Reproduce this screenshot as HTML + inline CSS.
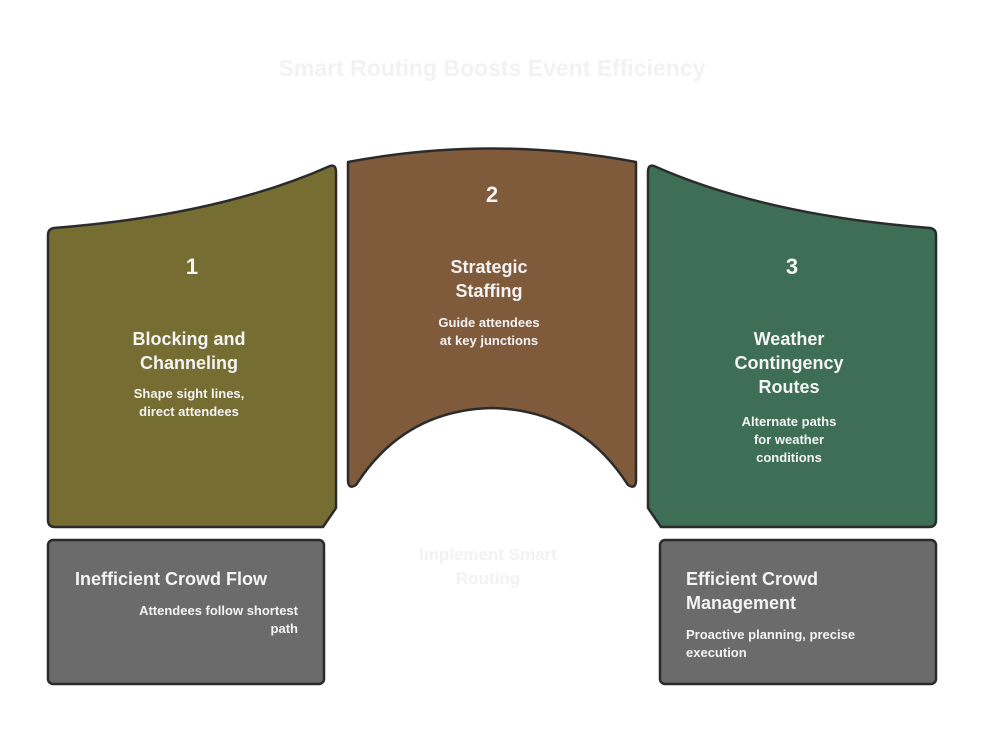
<!DOCTYPE html>
<html><head><style>
body{margin:0;background:#fff;width:984px;height:732px;overflow:hidden}
svg text{font-family:"Liberation Sans",sans-serif;fill:#f4f4f4}
</style></head><body>
<svg width="984" height="732" viewBox="0 0 984 732">
<text x="492" y="76" text-anchor="middle" font-size="23" font-weight="bold" style="fill:#f2f2f2">Smart Routing Boosts Event Efficiency</text>
<g stroke="#2b2b2b" stroke-width="2.5" stroke-linejoin="round">
<path d="M54,228 Q220,215 330,166 Q336,164 336,172 L336,508 L323,527 L55,527 Q48,527 48,520 L48,235 Q48,229 54,228 Z" fill="#766d33"/>
<path d="M348,162 Q492,135 636,162 L636,480 Q636,490 628,485 Q580,410 492,408 Q404,410 356,485 Q348,490 348,480 Z" fill="#7f5a3b"/>
<path d="M930,228 Q764,215 654,166 Q648,164 648,172 L648,508 L661,527 L929,527 Q936,527 936,520 L936,235 Q936,229 930,228 Z" fill="#3e6e56"/>
<rect x="48" y="540" width="276" height="144" rx="5" fill="#6b6b6b"/>
<rect x="660" y="540" width="276" height="144" rx="5" fill="#6b6b6b"/>
</g>
<g text-anchor="middle" font-weight="bold">
<text x="192" y="274" font-size="22">1</text>
<text x="189" y="345" font-size="18">Blocking and</text>
<text x="189" y="369" font-size="18">Channeling</text>
<text x="189" y="398" font-size="13">Shape sight lines,</text>
<text x="189" y="416" font-size="13">direct attendees</text>
<text x="492" y="202" font-size="22">2</text>
<text x="489" y="273" font-size="18">Strategic</text>
<text x="489" y="297" font-size="18">Staffing</text>
<text x="489" y="327" font-size="13">Guide attendees</text>
<text x="489" y="345" font-size="13">at key junctions</text>
<text x="792" y="274" font-size="22">3</text>
<text x="789" y="345" font-size="18">Weather</text>
<text x="789" y="369" font-size="18">Contingency</text>
<text x="789" y="393" font-size="18">Routes</text>
<text x="789" y="426" font-size="13">Alternate paths</text>
<text x="789" y="444" font-size="13">for weather</text>
<text x="789" y="462" font-size="13">conditions</text>
<text x="488" y="560" font-size="17" style="fill:#f2f2f2">Implement Smart</text>
<text x="488" y="584" font-size="17" style="fill:#f2f2f2">Routing</text>
</g>
<g font-weight="bold">
<text x="75" y="585" font-size="18">Inefficient Crowd Flow</text>
<text x="298" y="615" font-size="13" text-anchor="end">Attendees follow shortest</text>
<text x="298" y="633" font-size="13" text-anchor="end">path</text>
<text x="686" y="585" font-size="18">Efficient Crowd</text>
<text x="686" y="609" font-size="18">Management</text>
<text x="686" y="639" font-size="13">Proactive planning, precise</text>
<text x="686" y="657" font-size="13">execution</text>
</g>
</svg>
</body></html>
